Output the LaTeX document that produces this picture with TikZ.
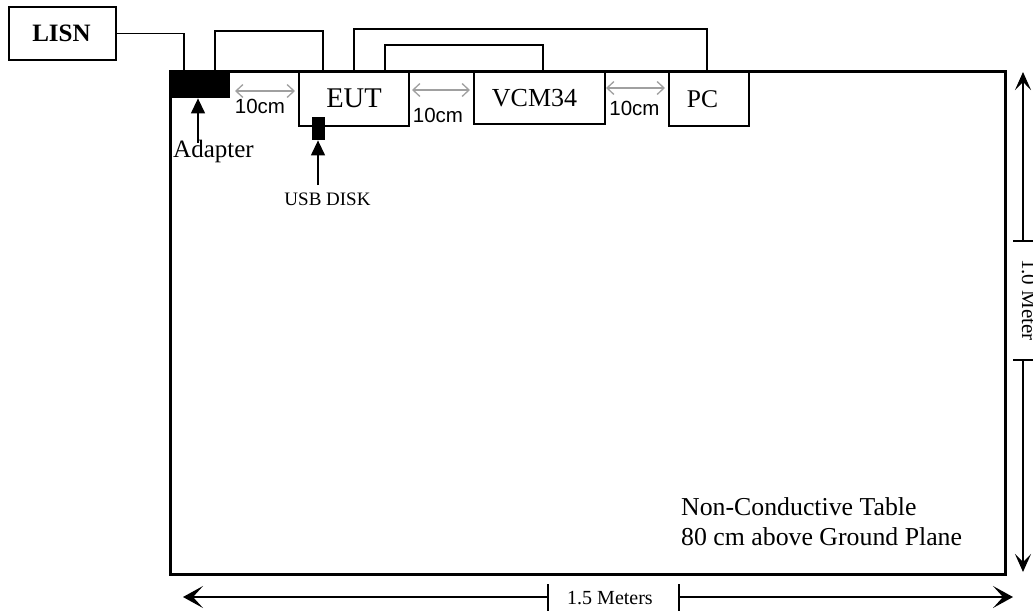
\documentclass[tikz,border=0pt]{standalone}
\usepackage{fontspec}
\setmainfont{Liberation Serif}
\newfontfamily\arialf{Liberation Sans}
\usetikzlibrary{arrows.meta,calc}
\definecolor{dimgrayc}{RGB}{160,160,160}
\begin{document}
\begin{tikzpicture}[x=1pt,y=-1pt,
  box/.style={draw,line width=1.5pt,inner sep=0pt,anchor=north west},
  blk/.style={fill=black,draw=none,inner sep=0pt,anchor=north west},
  cable/.style={draw,line width=1.5pt},
  gar/.style={draw=dimgrayc,line width=1.3pt,{Straight Barb[length=7pt,width=13pt]}-{Straight Barb[length=7pt,width=13pt]}},
  sar/.style={draw,line width=1.3pt,-{Triangle[length=15pt,width=14pt]}},
  hdim/.style={draw,line width=1.5pt},
  htip/.tip={Stealth[length=20pt,width=22pt,inset=10pt]},
  vtip/.tip={Stealth[length=18pt,width=16pt,inset=8pt]},
  lbl/.style={inner sep=0pt,anchor=base},
  cmtxt/.style={lbl,font={\arialf\fontsize{20.5}{24}\selectfont}}
]
\useasboundingbox (0,0) rectangle (1033,611);

% table
\node[draw,line width=3pt,inner sep=0pt,anchor=north west,minimum width=835pt,minimum height=503pt] (table) at (169,70) {};

% boxes
\node[box,minimum width=107pt,minimum height=53pt] (lisn) at (8,6) {};
\node[lbl,font={\bfseries\fontsize{25}{30}\selectfont}] (lisnt) at (61.5,41) {LISN};
\node[blk,minimum width=61pt,minimum height=28pt] (adapter) at (169,70) {};
\node[box,minimum width=110pt,minimum height=55pt] (eut) at (298,70) {};
\node[lbl,font={\fontsize{28.5}{32}\selectfont}] (eutt) at (354,107) {EUT};
\node[box,minimum width=131pt,minimum height=53pt] (vcm) at (473,70) {};
\node[lbl,font={\fontsize{26}{30}\selectfont}] (vcmt) at (534.5,106) {VCM34};
\node[box,minimum width=80pt,minimum height=55pt] (pc) at (668,70) {};
\node[lbl,font={\fontsize{25.5}{30}\selectfont}] (pct) at (702.5,107) {PC};
\node[blk,minimum width=13pt,minimum height=23pt] (usb) at (312,117) {};

% cable end points
\coordinate (adpin) at (184,70);
\coordinate (adpout) at (215,70);
\coordinate (eutpa) at (323,70);
\coordinate (eutpb) at (354,70);
\coordinate (eutpc) at (385,70);
\coordinate (vcmp) at (543,70);
\coordinate (pcp) at (707,70);

\draw[cable] (lisn.east) -| (adpin);
\draw[cable] (adpout) -- (215,31) -| (eutpa);
\draw[cable] (eutpb) -- (354,29) -| (pcp);
\draw[cable] (eutpc) -- (385,45) -| (vcmp);

% gray spacing arrows and labels
\draw[gar] (235,91) -- (295,91);
\node[cmtxt] (cm1) at (260,113) {10cm};
\draw[gar] (412,90) -- (470,90);
\node[cmtxt] (cm2) at (438,122) {10cm};
\draw[gar] (606,88) -- (665,88);
\node[cmtxt] (cm3) at (634.5,115) {10cm};

% pointer arrows
\coordinate (adpfoot) at (198,143);
\coordinate (usbfoot) at (318,185);
\draw[sar] (adpfoot) -- (adpfoot |- adapter.south);
\node[lbl,font={\fontsize{25}{30}\selectfont}] (adptxt) at (213.5,157) {Adapter};
\draw[sar] (usbfoot) -- (usbfoot |- usb.south);
\node[lbl,font={\fontsize{19}{22}\selectfont}] (usbtxt) at (327.5,205) {USB DISK};

% table text
\node[lbl,anchor=base west,font={\fontsize{25.8}{30}\selectfont}] (tab1) at (681,515) {Non-Conductive Table};
\node[lbl,anchor=base west,font={\fontsize{25.8}{30}\selectfont}] (tab2) at (681,545) {80 cm above Ground Plane};

% horizontal dimension
\coordinate (hl) at (183,597);
\coordinate (ht1) at (548,597);
\coordinate (ht2) at (679,597);
\coordinate (hr) at (1013,597);
\draw[hdim,{htip}-] (hl) -- (ht1);
\draw[hdim,-{htip}] (ht2) -- (hr);
\draw[line width=1.5pt] (548,584) -- (548,611);
\draw[line width=1.5pt] (679,584) -- (679,611);
\node[lbl,font={\fontsize{20}{24}\selectfont}] (hdimt) at (610,604) {1.5 Meters};

% vertical dimension
\coordinate (vt) at (1023,72);
\coordinate (vt1) at (1023,241);
\coordinate (vt2) at (1023,360);
\coordinate (vb) at (1023,572);
\draw[hdim,{vtip}-] (vt) -- (vt1);
\draw[hdim,-{vtip}] (vt2) -- (vb);
\draw[line width=1.5pt] (1013,241) -- (1036,241);
\draw[line width=1.5pt] (1013,360) -- (1036,360);
\node[lbl,rotate=-90,font={\fontsize{21}{24}\selectfont}] (vdimt) at (1022,300) {1.0 Meter};
\end{tikzpicture}
\end{document}
